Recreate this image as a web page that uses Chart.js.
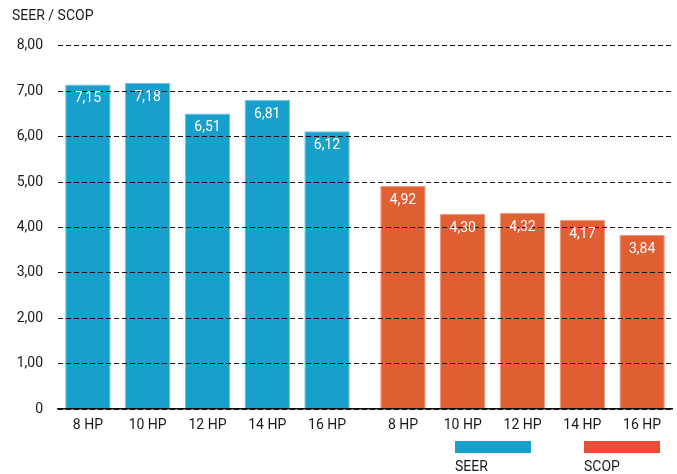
<!DOCTYPE html>
<html>
<head>
<meta charset="utf-8">
<script src="https://cdn.jsdelivr.net/npm/chart.js@4"></script>
<style>
html,body{margin:0;padding:0;background:#fff;}
#wrap{width:677px;height:474px;}
</style>
</head>
<body>
<div id="wrap"><canvas id="c" width="677" height="474"></canvas></div>
<script>
const categories = ["8 HP","10 HP","12 HP","14 HP","16 HP","8 HP","10 HP","12 HP","14 HP","16 HP"];
const seerValues = [7.15, 7.18, 6.51, 6.81, 6.12, null, null, null, null, null];
const scopValues = [null, null, null, null, null, 4.92, 4.30, 4.32, 4.17, 3.84];
const seriesNames = ["SEER", "SCOP"];
const yTitle = "SEER / SCOP";
const yTicks = [0, 1, 2, 3, 4, 5, 6, 7, 8];

const BLUE = "#189fcb", ORANGE = "#e06034", ORANGE_LEG = "#e84d37";
const BLUE_EDGE = "#6cc3e0", ORANGE_EDGE = "#ec9a7c";
const FONT = "Roboto";
const TEXT = "#1a1a1a";

const fmt = v => v === 0 ? "0" : v.toFixed(2).replace(".", ",");

// category scale with an extra gap between the two groups
class GapCategoryScale extends Chart.CategoryScale {
  getPixelForValue(value) {
    if (typeof value !== "number") value = this.parse(value);
    if (value === null || value === undefined) return NaN;
    const g = this.options.gapAfter, extra = this.options.gapSize || 0;
    const v = value > g ? value + extra : value;
    return this.getPixelForDecimal((v - this._startValue) / (this._valueRange + extra));
  }
}
GapCategoryScale.id = "gapCategory";
GapCategoryScale.defaults = Chart.CategoryScale.defaults;
Chart.register(GapCategoryScale);

const valueLabels = {
  id: "valueLabels",
  afterDraw(chart) {
    const ctx = chart.ctx;
    ctx.save();
    ctx.fillStyle = "#ffffff";
    ctx.font = "14px " + FONT;
    ctx.textAlign = "center";
    ctx.textBaseline = "middle";
    chart.data.datasets.forEach((ds, i) => {
      const meta = chart.getDatasetMeta(i);
      meta.data.forEach((el, j) => {
        const v = ds.data[j];
        if (v == null) return;
        ctx.fillText(fmt(v), el.x, el.y + 14.5);
      });
    });
    ctx.restore();
  }
};

const bottomLegend = {
  id: "bottomLegend",
  afterDraw(chart) {
    const ctx = chart.ctx;
    ctx.save();
    const items = [
      {name: seriesNames[0], color: BLUE, x: 455},
      {name: seriesNames[1], color: ORANGE_LEG, x: 584}
    ];
    ctx.font = "14px " + FONT;
    ctx.textAlign = "left";
    ctx.textBaseline = "middle";
    items.forEach(it => {
      ctx.fillStyle = it.color;
      ctx.fillRect(it.x, 441, 76, 12);
      ctx.fillStyle = TEXT;
      ctx.fillText(it.name, it.x, 467);
    });
    ctx.restore();
  }
};

new Chart(document.getElementById("c"), {
  type: "bar",
  data: {
    labels: categories,
    datasets: [
      {label: seriesNames[0], data: seerValues, backgroundColor: BLUE, borderColor: BLUE_EDGE, borderWidth: {top: 1, left: 1, right: 1, bottom: 0}},
      {label: seriesNames[1], data: scopValues, backgroundColor: ORANGE, borderColor: ORANGE_EDGE, borderWidth: {top: 1, left: 1, right: 1, bottom: 0}}
    ]
  },
  options: {
    responsive: false,
    animation: false,
    devicePixelRatio: 1,
    layout: {padding: {left: 12, right: 5, top: 0, bottom: 40}},
    datasets: {bar: {grouped: false, categoryPercentage: 1, barPercentage: 0.76}},
    plugins: {
      legend: {display: false},
      tooltip: {enabled: false},
      title: {
        display: true, text: yTitle, align: "start", color: TEXT,
        font: {family: FONT, size: 14, weight: "normal"},
        padding: {top: 8, bottom: 21}
      }
    },
    scales: {
      x: {
        type: "gapCategory",
        gapAfter: 4,
        gapSize: 0.27,
        grid: {display: false, drawTicks: false},
        border: {display: true, color: "#111", width: 1.5, z: 2},
        ticks: {color: TEXT, font: {family: FONT, size: 14}, padding: 8, maxRotation: 0, autoSkip: false},
        afterFit: s => { s.height = 25; }
      },
      y: {
        min: 0, max: 8,
        grid: {color: "#111", lineWidth: 1, drawTicks: false, z: 1},
        border: {display: false, dash: [5, 3]},
        afterBuildTicks: s => { s.ticks = yTicks.map(v => ({value: v})); },
        ticks: {color: TEXT, font: {family: FONT, size: 14}, padding: 15, callback: v => fmt(v)},
        afterFit: s => { s.width = 46; }
      }
    }
  },
  plugins: [valueLabels, bottomLegend]
});
</script>
</body>
</html>
